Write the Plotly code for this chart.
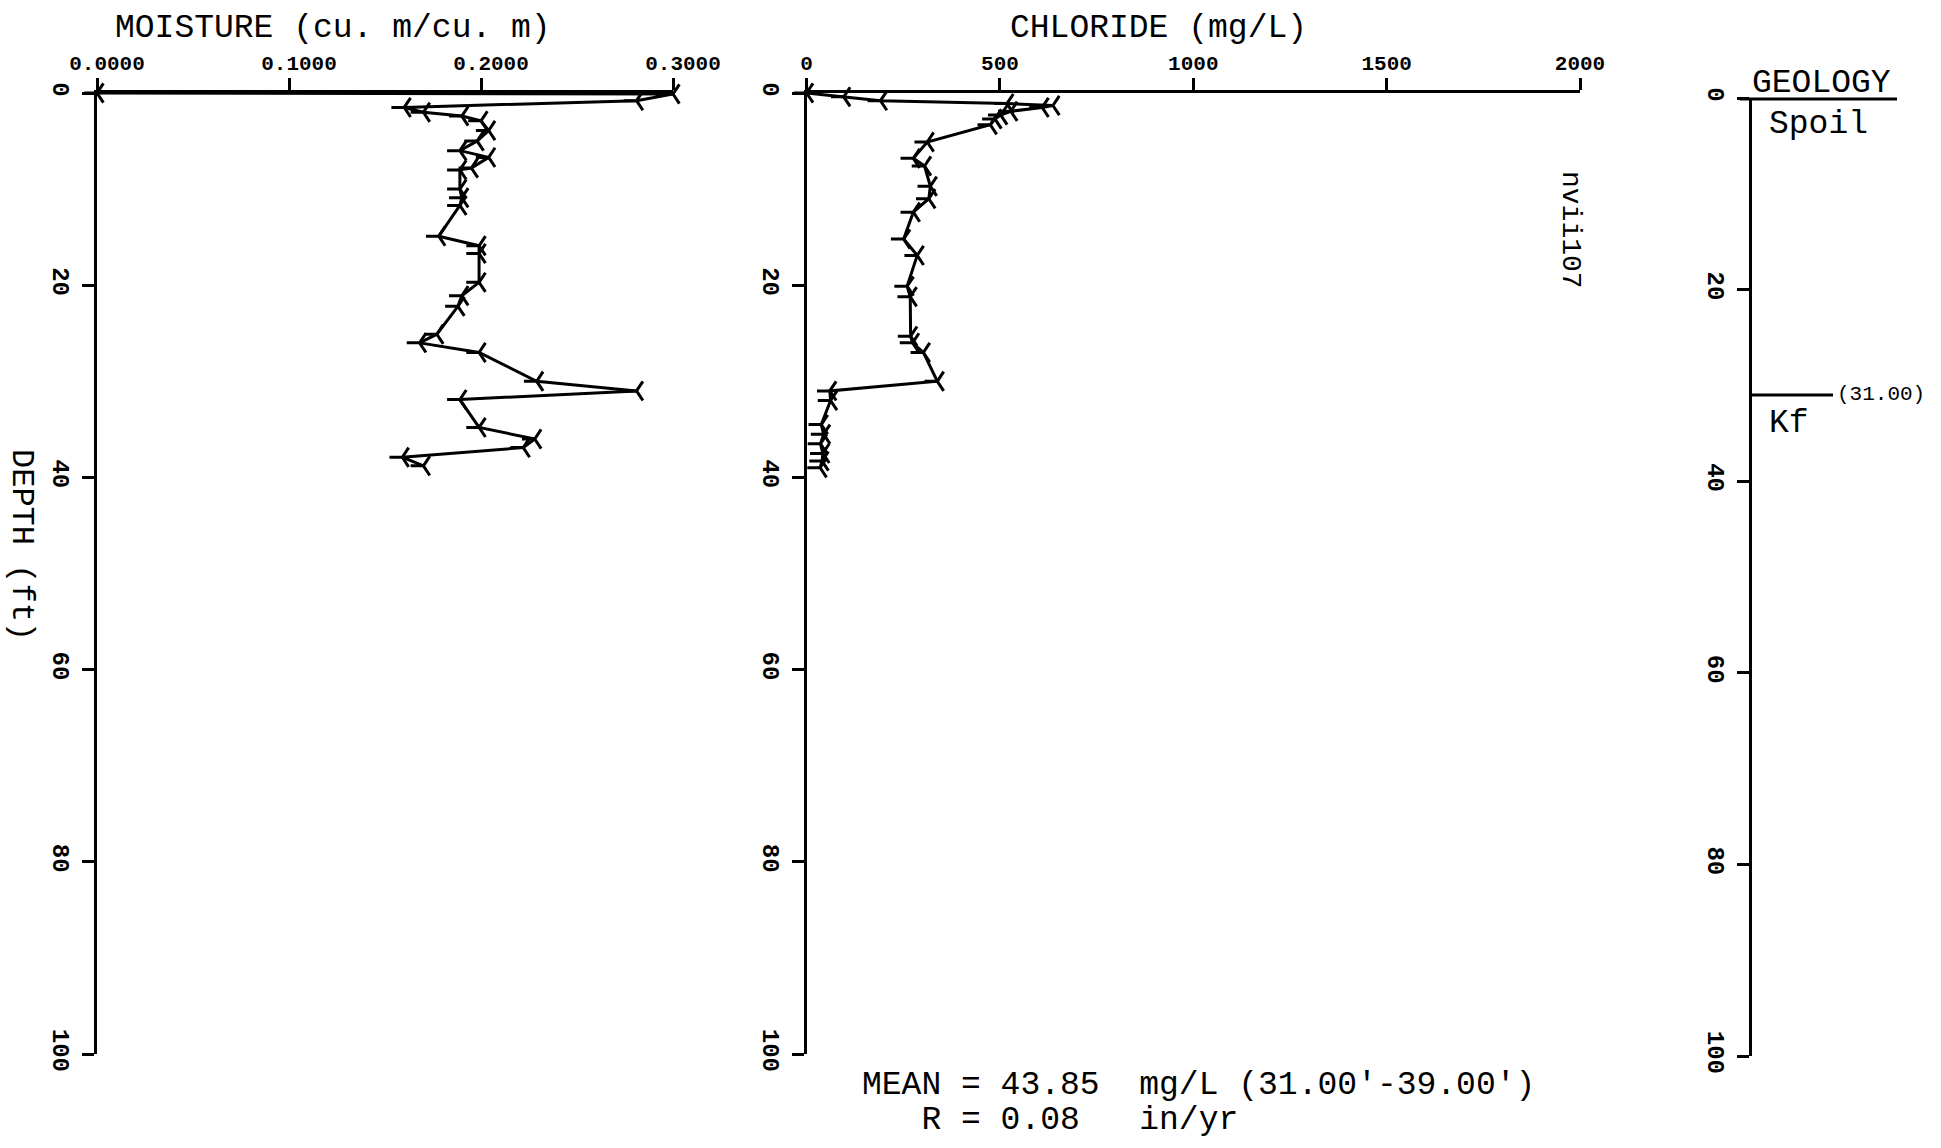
import plotly.graph_objects as go

W, H = 1941, 1148

# Moisture profile (depth in ft, volumetric moisture)
moist_depth = [0.0, 0.1, 0.8, 1.5, 2.0, 2.4, 2.9, 3.9, 5.0, 6.0, 6.7, 7.8, 8.0,
               10.0, 10.9, 11.7, 14.9, 15.9, 16.7, 19.7, 21.1, 22.2, 25.1, 26.0,
               27.0, 30.0, 31.0, 31.9, 34.8, 36.0, 36.9, 37.9, 38.8]
moisture = [0.000, 0.300, 0.281, 0.160, 0.170, 0.190, 0.200, 0.204, 0.198, 0.189,
            0.204, 0.195, 0.189, 0.189, 0.190, 0.189, 0.178, 0.199, 0.199, 0.199,
            0.190, 0.188, 0.177, 0.168, 0.199, 0.229, 0.281, 0.189, 0.199, 0.228,
            0.222, 0.159, 0.170]

# Chloride profile (depth in ft, mg/L)
cl_depth = [0.0, 0.4, 0.8, 1.1, 1.3, 1.5, 1.9, 2.3, 2.7, 3.3, 5.1, 6.8, 7.6, 9.7,
            11.0, 12.4, 15.2, 16.9, 20.1, 21.2, 25.3, 26.0, 27.0, 30.0, 31.0, 32.0,
            34.5, 35.5, 36.5, 37.5, 38.3, 39.0]
chloride = [0, 96, 191, 518, 637, 609, 528, 502, 487, 475, 312, 276, 305, 320,
            316, 276, 251, 286, 260, 268, 269, 274, 302, 338, 60, 62, 38, 44, 36,
            42, 40, 35]

# Geologic units and their top depths (ft)
geo_units = ["Spoil", "Kf"]
geo_top = [0.0, 31.0]

depth_ticks = [0, 20, 40, 60, 80, 100]
moist_ticks = [0.0, 0.1, 0.2, 0.3]
moist_ticklabels = ["0.0000", "0.1000", "0.2000", "0.3000"]
cl_ticks = [0, 500, 1000, 1500, 2000]

well_id = "nvii107"
mean_cl = 43.85
recharge = 0.08
mean_interval = (31.00, 39.00)

FONT = "Liberation Mono, DejaVu Sans Mono, monospace"
INK = "black"


def fx(px):
    return px / W


def fy(py):
    return 1 - py / H


prof_y = [fy(1054), fy(93)]
geo_y = [fy(1056), fy(98)]

line_style = dict(color=INK, width=3)
mark_style = dict(symbol="y-left", size=16, line=dict(color=INK, width=3))

fig = go.Figure()
fig.add_trace(go.Scatter(x=moisture, y=moist_depth, xaxis="x", yaxis="y",
                         mode="lines+markers", line=line_style, marker=mark_style,
                         cliponaxis=False, showlegend=False))
fig.add_trace(go.Scatter(x=chloride, y=cl_depth, xaxis="x2", yaxis="y2",
                         mode="lines+markers", line=line_style, marker=mark_style,
                         cliponaxis=False, showlegend=False))

# geologic contacts below the surface
cx, cy = [], []
for d in geo_top[1:]:
    cx += [0, 1, None]
    cy += [d, d, None]
fig.add_trace(go.Scatter(x=cx, y=cy, xaxis="x3", yaxis="y3", mode="lines",
                         line=dict(color=INK, width=3), cliponaxis=False,
                         showlegend=False, hoverinfo="skip"))

axis_common = dict(showline=True, linecolor=INK, linewidth=3, ticks="outside",
                   ticklen=12, tickwidth=3, tickcolor=INK, showgrid=False,
                   zeroline=False, fixedrange=True, automargin=False,
                   tickfont=dict(family=FONT, size=21, color=INK, weight="bold"))
depth_axis = dict(axis_common, range=[100, 0], tickvals=depth_ticks, tickangle=90,
                  tickfont=dict(family=FONT, size=24, color=INK, weight="bold"))

fig.update_layout(
    template="none",
    width=W, height=H,
    margin=dict(l=0, r=0, t=0, b=0, pad=0),
    paper_bgcolor="white", plot_bgcolor="white",
    xaxis=dict(axis_common, domain=[fx(97), fx(673)], range=[0, 0.3], side="top",
               anchor="y", tickvals=moist_ticks, ticktext=moist_ticklabels,
               ticklabelshift=10),
    yaxis=dict(depth_axis, domain=prof_y, anchor="x"),
    xaxis2=dict(axis_common, domain=[fx(806.6), fx(1580)], range=[0, 2000], side="top",
                anchor="y2", tickvals=cl_ticks),
    yaxis2=dict(depth_axis, domain=prof_y, anchor="x2"),
    xaxis3=dict(domain=[fx(1752), fx(1833)], range=[0, 1], visible=False,
                anchor="y3", fixedrange=True),
    yaxis3=dict(depth_axis, domain=geo_y, anchor="x3"),
)

# top line of the geology column
fig.add_shape(type="line", xref="paper", yref="paper", x0=fx(1740), x1=fx(1897),
              y0=fy(99), y1=fy(99), line=dict(color=INK, width=3))


def note(text, x, y, size, **kw):
    kw.setdefault("xanchor", "center")
    kw.setdefault("yanchor", "middle")
    kw.setdefault("xref", "paper")
    kw.setdefault("yref", "paper")
    fig.add_annotation(text=text, x=x, y=y, showarrow=False,
                       font=dict(family=FONT, size=size, color=INK), **kw)


note("MOISTURE (cu. m/cu. m)", fx(333), fy(28), 33)
note("CHLORIDE (mg/L)", fx(1158), fy(28), 33)
note("GEOLOGY", fx(1821), fy(83), 33)
note("DEPTH (ft)", fx(22), fy(545), 32, textangle=90)
note(well_id, fx(1571), fy(230), 28, textangle=90)

for name, top in zip(geo_units, geo_top):
    note(name, fx(1767), top, 33, yref="y3", xanchor="left", yanchor="top",
         yshift=-6 if top == 0 else -8)
for top in geo_top[1:]:
    note(f"({top:.2f})", 1, top, 21, xref="x3", yref="y3", xanchor="left", xshift=2)

nb = "\u00a0"
line1 = (f"MEAN{nb}={nb}{mean_cl:.2f}{nb}{nb}mg/L{nb}"
         f"({mean_interval[0]:.2f}'-{mean_interval[1]:.2f}')")
line2 = f"{nb * 3}R{nb}={nb}{recharge:.2f}{nb * 3}in/yr"
note(line1, fx(860), fy(1085), 33, xanchor="left")
note(line2, fx(860), fy(1120), 33, xanchor="left")

fig.write_html("out.html")
